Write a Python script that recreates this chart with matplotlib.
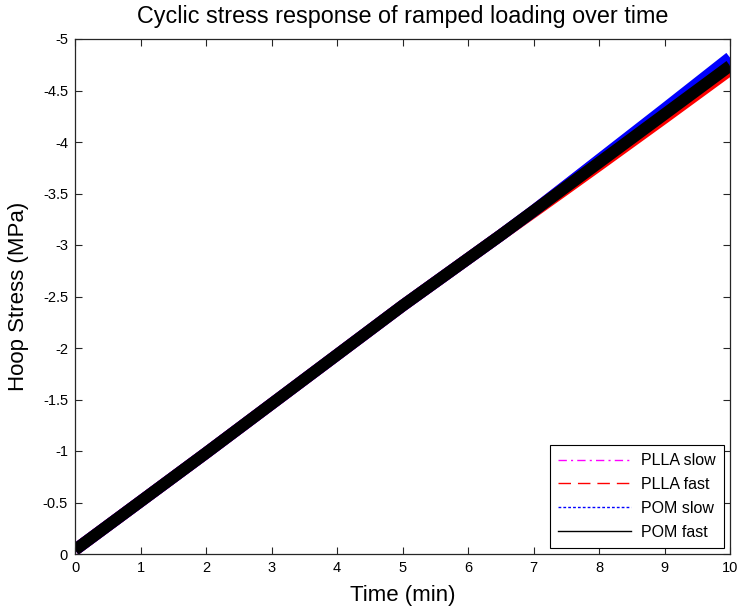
import matplotlib
matplotlib.use('Agg')
import matplotlib.pyplot as plt
from matplotlib.lines import Line2D

plt.rcParams['font.family'] = ['Liberation Sans', 'DejaVu Sans']

# Time nodes (min) and hoop stress (MPa)
time_min = [0, 2, 5, 6.5, 7, 7.5, 8, 9, 10]
pom_fast = [-0.04, -0.98, -2.41, -3.095, -3.33, -3.565, -3.80, -4.27, -4.74]
pom_slow = [-0.04, -0.98, -2.41, -3.095, -3.33, -3.577, -3.825, -4.32, -4.82]
plla_slow = [-0.04, -0.98, -2.41, -3.095, -3.33, -3.575, -3.82, -4.31, -4.80]
plla_fast = [-0.04, -0.98, -2.41, -3.095, -3.32, -3.547, -3.775, -4.235, -4.70]

labels = ['PLLA slow', 'PLLA fast', 'POM slow', 'POM fast']
series = [plla_slow, plla_fast, pom_slow, pom_fast]
colors = ['#ff00ff', '#ff0000', '#0000ff', '#000000']
styles = [(0, (6, 3, 1.5, 3)), (0, (9, 5)), (0, (2, 1.5)), '-']

x_ticks = list(range(0, 11))
y_ticks = [0, -0.5, -1, -1.5, -2, -2.5, -3, -3.5, -4, -4.5, -5]

fig = plt.figure(figsize=(7.38, 6.08), dpi=100)
ax = fig.add_axes([75 / 738, 1 - 554 / 608, (730 - 75) / 738, (554 - 39) / 608])

# dense cyclic loading shows up as a thick band
for vals, c in zip(series, colors):
    ax.plot(time_min, vals, color=c, linewidth=8.5, solid_capstyle='butt',
            solid_joinstyle='round')

ax.set_xlim(0, 10)
ax.set_ylim(0, -5)
ax.set_xticks(x_ticks)
ax.set_xticklabels([f'{v:g}' for v in x_ticks])
ax.set_yticks(y_ticks)
ax.set_yticklabels([f'{v:g}' for v in y_ticks])
ax.tick_params(direction='in', top=True, right=True, length=5, width=0.8,
               labelsize=10.5, colors='#262626', labelcolor='black', pad=5)
for sp in ax.spines.values():
    sp.set_color('#262626')
    sp.set_linewidth(0.9)

ax.set_xlabel('Time (min)', fontsize=16, labelpad=7)
ax.set_ylabel('Hoop Stress (MPa)', fontsize=16, labelpad=10)
ax.set_title('Cyclic stress response of ramped loading over time', fontsize=16.8, pad=11.5)

handles = [Line2D([], [], color=c, linestyle=s, linewidth=1) for c, s in zip(colors, styles)]
leg = ax.legend(handles, labels, loc='lower right', fontsize=11.5, handlelength=4.6,
                fancybox=False, framealpha=1, edgecolor='black',
                borderaxespad=0.4, labelspacing=0.55, handletextpad=0.6,
                borderpad=0.5)
leg.get_frame().set_linewidth(0.8)

fig.savefig('out.png', dpi=100)
